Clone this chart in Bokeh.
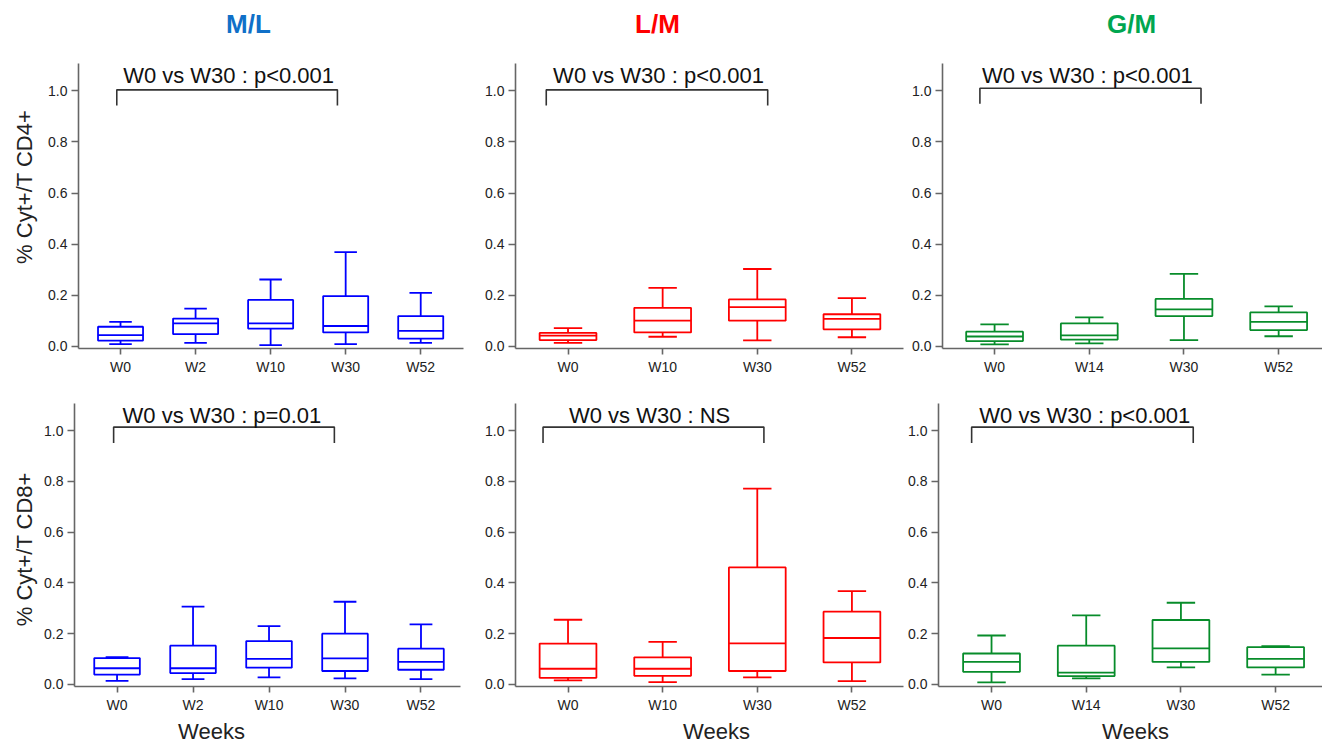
import numpy as np
from bokeh.plotting import figure
from bokeh.layouts import column, row
from bokeh.models import Range1d, FixedTicker, NumeralTickFormatter
from bokeh.embed import file_html
from bokeh.resources import INLINE
from bokeh.core.properties import value

FONT = "Liberation Sans"

# ---------------- data ----------------
weeks_ml = ["W0", "W2", "W10", "W30", "W52"]
weeks_lm = ["W0", "W10", "W30", "W52"]
weeks_gm = ["W0", "W14", "W30", "W52"]

group_titles = ["M/L", "L/M", "G/M"]
row_labels = ["% Cyt+/T CD4+", "% Cyt+/T CD8+"]
x_title = "Weeks"

# CD4 (top row): whisker low, Q1, median, Q3, whisker high
cd4_ml_low = [0.009, 0.014, 0.005, 0.009, 0.014]
cd4_ml_q1 = [0.023, 0.048, 0.070, 0.055, 0.031]
cd4_ml_med = [0.044, 0.090, 0.090, 0.080, 0.061]
cd4_ml_q3 = [0.077, 0.109, 0.182, 0.197, 0.119]
cd4_ml_high = [0.096, 0.148, 0.262, 0.369, 0.210]

cd4_lm_low = [0.014, 0.038, 0.024, 0.036]
cd4_lm_q1 = [0.025, 0.055, 0.101, 0.067]
cd4_lm_med = [0.042, 0.101, 0.154, 0.108]
cd4_lm_q3 = [0.053, 0.151, 0.184, 0.126]
cd4_lm_high = [0.072, 0.229, 0.303, 0.189]

cd4_gm_low = [0.008, 0.012, 0.025, 0.040]
cd4_gm_q1 = [0.021, 0.027, 0.119, 0.064]
cd4_gm_med = [0.039, 0.043, 0.145, 0.096]
cd4_gm_q3 = [0.058, 0.090, 0.186, 0.133]
cd4_gm_high = [0.086, 0.114, 0.284, 0.157]

# CD8 (bottom row)
cd8_ml_low = [0.014, 0.021, 0.028, 0.024, 0.021]
cd8_ml_q1 = [0.039, 0.045, 0.066, 0.053, 0.058]
cd8_ml_med = [0.064, 0.064, 0.101, 0.103, 0.089]
cd8_ml_q3 = [0.104, 0.153, 0.171, 0.200, 0.141]
cd8_ml_high = [0.108, 0.307, 0.230, 0.326, 0.237]

cd8_lm_low = [0.016, 0.009, 0.028, 0.013]
cd8_lm_q1 = [0.026, 0.034, 0.053, 0.087]
cd8_lm_med = [0.062, 0.062, 0.162, 0.183]
cd8_lm_q3 = [0.161, 0.107, 0.461, 0.287]
cd8_lm_high = [0.255, 0.168, 0.772, 0.368]

cd8_gm_low = [0.008, 0.024, 0.067, 0.039]
cd8_gm_q1 = [0.050, 0.033, 0.089, 0.067]
cd8_gm_med = [0.089, 0.047, 0.142, 0.101]
cd8_gm_q3 = [0.122, 0.153, 0.254, 0.147]
cd8_gm_high = [0.193, 0.272, 0.322, 0.151]

# W0 vs W30 comparisons
cmp_texts = ["W0 vs W30 : p<0.001", "W0 vs W30 : p<0.001", "W0 vs W30 : p<0.001",
             "W0 vs W30 : p=0.01", "W0 vs W30 : NS", "W0 vs W30 : p<0.001"]
bracket_start = [-0.05, -0.23, -0.155, -0.045, -0.264, -0.21]
bracket_end = [2.89, 2.11, 2.18, 2.86, 2.07, 2.13]
cmp_text_x = [1.44, 0.957, 0.98, 1.38, 0.862, 0.985]

y_ticks = [0.0, 0.2, 0.4, 0.6, 0.8, 1.0]

# ---------------- style ----------------
title_colors = ["#1070C8", "#FF0000", "#00A650"]
box_colors = ["#0000FF", "#FF0000", "#078C2A"]
AXIS_COL = "#666666"
TXT_COL = "#222222"

# layout (pixels)
TOTAL_W = 1322
HEAD_H, TOP_H, BOT_H, FOOT_H = 45, 335, 338, 26
YLAB_W = 40
COL_W = [430, 434, 418]


def make_panel(cats, low, q1, med, q3, high, color, idx, width, height,
               mbl, mbr, mbt, mbb, xr, br_top, br_leg):
    p = figure(width=width, height=height, output_backend="svg",
               toolbar_location=None, x_range=Range1d(*xr),
               y_range=Range1d(-0.008, 1.107),
               min_border_left=mbl, min_border_right=mbr,
               min_border_top=mbt, min_border_bottom=mbb)
    p.outline_line_color = None
    p.xgrid.visible = False
    p.ygrid.visible = False
    p.background_fill_color = "white"
    p.border_fill_color = "white"

    x = np.arange(len(cats), dtype=float)
    low, q1, med, q3, high = map(np.asarray, (low, q1, med, q3, high))
    lw = 1.8
    p.segment(x, q3, x, high, line_color=color, line_width=lw)
    p.segment(x, low, x, q1, line_color=color, line_width=lw)
    p.segment(x - 0.15, high, x + 0.15, high, line_color=color, line_width=lw)
    p.segment(x - 0.15, low, x + 0.15, low, line_color=color, line_width=lw)
    p.quad(left=x - 0.3, right=x + 0.3, bottom=q1, top=q3,
           fill_color="white", line_color=color, line_width=lw)
    p.segment(x - 0.3, med, x + 0.3, med, line_color=color, line_width=lw)

    b0, b1 = bracket_start[idx], bracket_end[idx]
    p.line([b0, b0, b1, b1], [br_leg, br_top, br_top, br_leg],
           line_color="#333333", line_width=1.6)
    p.text(x=[cmp_text_x[idx]], y=[1.06], text=[cmp_texts[idx]],
           text_font=value(FONT), text_font_size="22px", text_color="#111111",
           text_align="center", text_baseline="middle")

    p.xaxis.ticker = FixedTicker(ticks=list(range(len(cats))))
    p.xaxis.major_label_overrides = {i: c for i, c in enumerate(cats)}
    p.yaxis.ticker = FixedTicker(ticks=y_ticks)
    p.yaxis.formatter = NumeralTickFormatter(format="0.0")
    for ax in (p.xaxis[0], p.yaxis[0]):
        ax.axis_line_color = AXIS_COL
        ax.axis_line_width = 1.6
        ax.major_tick_line_color = AXIS_COL
        ax.major_tick_line_width = 1.6
        ax.major_tick_in = 0
        ax.minor_tick_line_color = None
        ax.major_label_text_font = FONT
        ax.major_label_text_font_size = "14px"
        ax.major_label_text_color = TXT_COL
    p.xaxis.major_tick_out = 6
    p.xaxis.major_label_standoff = 4
    p.yaxis.major_tick_out = 7
    p.yaxis.major_label_standoff = 4
    return p


def text_fig(width, height):
    f = figure(width=width, height=height, output_backend="svg", toolbar_location=None,
               x_range=Range1d(0, width), y_range=Range1d(height, 0),
               x_axis_location=None, y_axis_location=None,
               min_border_left=0, min_border_right=0, min_border_top=0, min_border_bottom=0)
    f.outline_line_color = None
    f.grid.visible = False
    f.background_fill_color = "white"
    f.border_fill_color = "white"
    return f


# header with group titles
header = text_fig(TOTAL_W, HEAD_H)
header.text(x=[248, 657, 1131], y=[23, 23, 23], text=group_titles,
            text_color=title_colors, text_font=value(FONT), text_font_size="26px",
            text_font_style="bold", text_align="center", text_baseline="middle")

# y-axis titles
ylab_top = text_fig(YLAB_W, TOP_H)
ylab_top.text(x=[23.5], y=[145], text=[row_labels[0]], angle=np.pi / 2,
              text_color=TXT_COL, text_font=value(FONT), text_font_size="22px",
              text_align="center", text_baseline="middle")
ylab_bot = text_fig(YLAB_W, BOT_H)
ylab_bot.text(x=[23.5], y=[174], text=[row_labels[1]], angle=np.pi / 2,
              text_color=TXT_COL, text_font=value(FONT), text_font_size="22px",
              text_align="center", text_baseline="middle")

# footer with x-axis titles
footer = text_fig(TOTAL_W, FOOT_H)
footer.text(x=[211, 716, 1135], y=[13, 13, 13], text=[x_title] * 3,
            text_color=TXT_COL, text_font=value(FONT), text_font_size="22px",
            text_align="center", text_baseline="middle")

p1 = make_panel(weeks_ml, cd4_ml_low, cd4_ml_q1, cd4_ml_med, cd4_ml_q3, cd4_ml_high,
                box_colors[0], 0, COL_W[0], TOP_H, 38, 7, 18, 32, (-0.56, 4.57), 1.004, 0.943)
p2 = make_panel(weeks_lm, cd4_lm_low, cd4_lm_q1, cd4_lm_med, cd4_lm_q3, cd4_lm_high,
                box_colors[1], 1, COL_W[1], TOP_H, 45, 1, 18, 32, (-0.555, 3.545), 1.004, 0.943)
p3 = make_panel(weeks_gm, cd4_gm_low, cd4_gm_q1, cd4_gm_med, cd4_gm_q3, cd4_gm_high,
                box_colors[2], 2, COL_W[2], TOP_H, 38, 0, 18, 32, (-0.55, 3.463), 1.01, 0.95)
p4 = make_panel(weeks_ml, cd8_ml_low, cd8_ml_q1, cd8_ml_med, cd8_ml_q3, cd8_ml_high,
                box_colors[0], 3, COL_W[0], BOT_H, 34, 10, 23, 32, (-0.56, 4.52), 1.014, 0.951)
p5 = make_panel(weeks_lm, cd8_lm_low, cd8_lm_q1, cd8_lm_med, cd8_lm_q3, cd8_lm_high,
                box_colors[1], 4, COL_W[1], BOT_H, 45, 1, 23, 32, (-0.555, 3.545), 1.014, 0.951)
p6 = make_panel(weeks_gm, cd8_gm_low, cd8_gm_q1, cd8_gm_med, cd8_gm_q3, cd8_gm_high,
                box_colors[2], 5, COL_W[2], BOT_H, 34, 0, 23, 32, (-0.56, 3.495), 1.014, 0.951)

layout = column(header,
                row(ylab_top, p1, p2, p3),
                row(ylab_bot, p4, p5, p6),
                footer)

open("out.html", "w").write(file_html(layout, INLINE))
